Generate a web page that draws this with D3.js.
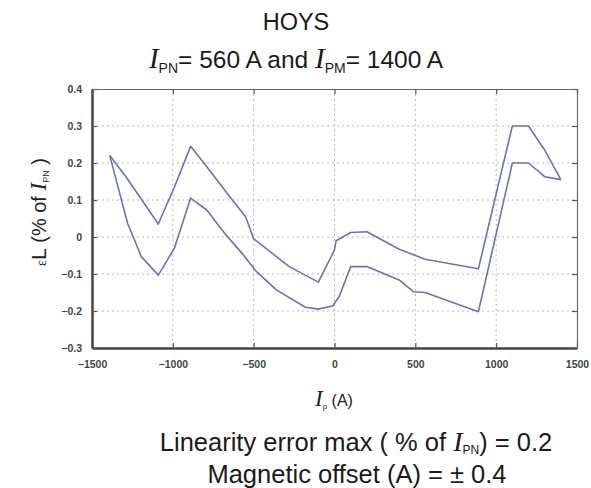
<!DOCTYPE html>
<html>
<head>
<meta charset="utf-8">
<script src="https://cdn.jsdelivr.net/npm/d3@7"></script>
<style>
  body { margin: 0; background: #fff; }
  svg { font-family: Arial, "Liberation Sans", sans-serif; }
</style>
</head>
<body>
<svg id="chart"></svg>
<script>
// x values (A), upper / lower linearity error curves (% of IPN)
const upperX = [-1390, -1290, -1090, -990, -890, -790, -650, -550, -500, -280, -100, 0, 10, 100, 200, 400, 560, 890, 1100, 1200, 1300, 1400];
const upperY = [0.22, 0.163, 0.035, 0.135, 0.245, 0.19, 0.11, 0.055, -0.005, -0.08, -0.122, -0.035, -0.01, 0.012, 0.014, -0.033, -0.06, -0.086, 0.3, 0.3, 0.235, 0.155];
const lowerX = [-1390, -1280, -1195, -1090, -990, -890, -790, -670, -570, -490, -360, -180, -100, -10, 30, 100, 200, 400, 490, 560, 890, 1100, 1200, 1300, 1400];
const lowerY = [0.22, 0.037, -0.053, -0.103, -0.03, 0.105, 0.073, 0.005, -0.045, -0.09, -0.143, -0.19, -0.195, -0.186, -0.16, -0.08, -0.08, -0.116, -0.148, -0.15, -0.202, 0.2, 0.2, 0.163, 0.155];
const xTicks = [-1500, -1000, -500, 0, 500, 1000, 1500];
const yTicks = [-0.3, -0.2, -0.1, 0, 0.1, 0.2, 0.3, 0.4];

const width = 591;
const height = 488;
const margin = { top: 89, right: 14, bottom: 140, left: 92 };
const innerW = width - margin.left - margin.right;
const innerH = height - margin.top - margin.bottom;

const svg = d3.select("#chart").attr("width", width).attr("height", height);

const x = d3.scaleLinear().domain([-1500, 1500]).range([0, innerW]);
const y = d3.scaleLinear().domain([-0.3, 0.4]).range([innerH, 0]);

const g = svg.append("g").attr("transform", `translate(${margin.left},${margin.top})`);

// dotted grid
g.append("g")
  .selectAll("line")
  .data(xTicks.slice(1, -1))
  .join("line")
  .attr("x1", (d) => x(d)).attr("x2", (d) => x(d))
  .attr("y1", 0).attr("y2", innerH)
  .attr("stroke", "#b8b8b8").attr("stroke-width", 1).attr("stroke-dasharray", "2,3");
g.append("g")
  .selectAll("line")
  .data(yTicks.slice(1, -1))
  .join("line")
  .attr("x1", 0).attr("x2", innerW)
  .attr("y1", (d) => y(d)).attr("y2", (d) => y(d))
  .attr("stroke", "#b8b8b8").attr("stroke-width", 1).attr("stroke-dasharray", "2,3");

// axes (ticks pointing inwards)
const fmtY = (d) => (d === 0 ? "0" : d3.format(".1f")(d));
const xAxis = g.append("g")
  .attr("transform", `translate(0,${innerH})`)
  .call(d3.axisBottom(x).tickValues(xTicks).tickSizeInner(-5).tickSizeOuter(0).tickPadding(13).tickFormat(d3.format("d")));
const yAxis = g.append("g")
  .call(d3.axisLeft(y).tickValues(yTicks).tickSizeInner(-5).tickSizeOuter(0).tickPadding(10).tickFormat(fmtY));
g.append("g")
  .attr("transform", `translate(${innerW},0)`)
  .call(d3.axisRight(y).tickValues(yTicks).tickSizeInner(-5).tickSizeOuter(0).tickFormat(""));
g.append("g")
  .call(d3.axisTop(x).tickValues(xTicks).tickSizeInner(-5).tickSizeOuter(0).tickFormat(""));

g.selectAll(".tick line").attr("stroke", "#555").attr("stroke-width", 1.2);
g.selectAll(".domain").attr("stroke", "#666").attr("stroke-width", 1.2);
xAxis.select(".domain").attr("stroke", "#444").attr("stroke-width", 2.5);
yAxis.select(".domain").attr("stroke", "#444").attr("stroke-width", 2.5);
g.selectAll(".tick text")
  .attr("fill", "#444").attr("font-size", 10.5).attr("font-weight", "bold")
  .attr("font-family", "Arial, 'Liberation Sans', sans-serif");

// curves
const line = d3.line().x((d) => x(d[0])).y((d) => y(d[1]));
const upper = upperX.map((v, i) => [v, upperY[i]]);
const lower = lowerX.map((v, i) => [v, lowerY[i]]);
[upper, lower].forEach((s) => {
  g.append("path")
    .datum(s)
    .attr("fill", "none")
    .attr("stroke", "#6d6fc0")
    .attr("stroke-width", 1.6)
    .attr("stroke-linejoin", "round")
    .attr("d", line);
});

// titles
const italic = "'Liberation Serif', 'DejaVu Serif', serif";
svg.append("text")
  .attr("x", 296).attr("y", 30)
  .attr("text-anchor", "middle").attr("font-size", 23.5).attr("fill", "#1a1a1a")
  .text("HOYS");

const t2 = svg.append("text")
  .attr("x", 296).attr("y", 68)
  .attr("text-anchor", "middle").attr("font-size", 24.5).attr("fill", "#1a1a1a");
t2.append("tspan").attr("font-family", italic).attr("font-style", "italic").attr("font-size", 29).text("I");
t2.append("tspan").attr("font-size", 14).attr("dy", 5).text("PN");
t2.append("tspan").attr("dy", -5).text("= 560 A and ");
t2.append("tspan").attr("font-family", italic).attr("font-style", "italic").attr("font-size", 29).text("I");
t2.append("tspan").attr("font-size", 14).attr("dy", 5).text("PM");
t2.append("tspan").attr("dy", -5).text("= 1400 A");

// x axis label
const xl = svg.append("text")
  .attr("x", 334).attr("y", 406)
  .attr("text-anchor", "middle").attr("font-size", 16).attr("fill", "#222");
xl.append("tspan").attr("font-family", italic).attr("font-style", "italic").attr("font-size", 23).text("I");
xl.append("tspan").attr("font-size", 8).attr("dy", 3).text("p");
xl.append("tspan").attr("dy", -3).text(" (A)");

// y axis label
const yl = svg.append("text")
  .attr("transform", "translate(46,212) rotate(-90)")
  .attr("text-anchor", "middle").attr("font-size", 20).attr("fill", "#222");
yl.append("tspan").attr("font-family", italic).attr("font-size", 14).text("ε");
yl.append("tspan").attr("font-size", 21).text("L");
yl.append("tspan").text(" (% of ");
yl.append("tspan").attr("font-family", italic).attr("font-style", "italic").attr("font-size", 23).text("I");
yl.append("tspan").attr("font-size", 9).attr("dy", 3).text("PN");
yl.append("tspan").attr("dy", -3).text(" )");

// bottom notes
const n1 = svg.append("text")
  .attr("x", 356).attr("y", 451)
  .attr("text-anchor", "middle").attr("font-size", 25.5).attr("fill", "#1a1a1a");
n1.append("tspan").text("Linearity error max ( % of ");
n1.append("tspan").attr("font-family", italic).attr("font-style", "italic").attr("font-size", 28).text("I");
n1.append("tspan").attr("font-size", 12).attr("dy", 3).text("PN");
n1.append("tspan").attr("dy", -3).text(") = 0.2");

svg.append("text")
  .attr("x", 357).attr("y", 483)
  .attr("text-anchor", "middle").attr("font-size", 25.5).attr("fill", "#1a1a1a")
  .text("Magnetic offset (A) = ± 0.4");
</script>
</body>
</html>
